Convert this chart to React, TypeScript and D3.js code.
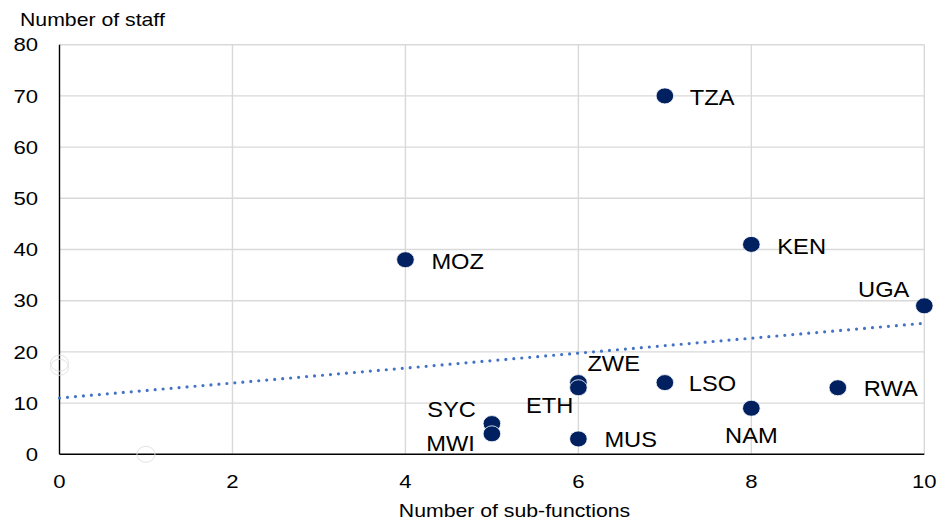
import React, { useEffect } from "react";
import * as d3 from "d3";

const countries = ["TZA", "KEN", "MOZ", "UGA", "RWA", "NAM", "LSO", "ZWE", "ETH", "SYC", "MWI", "MUS"];
const subFunctions = [7, 8, 4, 10, 9, 8, 7, 6, 6, 5, 5, 6];
const staff = [70, 41, 38, 29, 13, 9, 14, 14, 13, 6, 4, 3];

// faint, hidden-looking markers visible in the reference
const ghostX = [0, 0, 1];
const ghostY = [17.8, 17, 0];

// linear trend endpoints (x=0 and x=10)
const trendX = [0, 10];
const trendY = [11.0, 25.6];

const xTicks = [0, 2, 4, 6, 8, 10];
const yTicks = [0, 10, 20, 30, 40, 50, 60, 70, 80];

// label placement: [dx, dy, anchor]
const labelPos: Record<string, [number, number, string]> = {
  TZA: [25, 9, "start"],
  KEN: [26, 9.5, "start"],
  MOZ: [26, 9, "start"],
  UGA: [-15, -9, "end"],
  RWA: [26, 8, "start"],
  NAM: [0, 35, "middle"],
  LSO: [24, 8, "start"],
  ZWE: [9, -12, "start"],
  ETH: [-5, 25, "end"],
  SYC: [-16, -6.5, "end"],
  MWI: [-17, 17.5, "end"],
  MUS: [26, 8, "start"],
};

const FONT = "'Liberation Sans', Arial, Helvetica, sans-serif";

function SText(props: { x: number; y: number; size: number; sx: number; anchor?: string; children: React.ReactNode }) {
  const { x, y, size, sx, anchor = "start", children } = props;
  return (
    <text
      transform={`translate(${x},${y}) scale(${sx},1)`}
      fontSize={size}
      fontFamily={FONT}
      textAnchor={anchor as any}
      fill="#000"
    >
      {children}
    </text>
  );
}

export default function App() {
  useEffect(() => {
    document.body.style.margin = "0";
  }, []);

  const W = 938;
  const H = 521;
  const x = d3.scaleLinear().domain([0, 10]).range([59.5, 924.3]);
  const y = d3.scaleLinear().domain([0, 80]).range([454.3, 44.7]);

  const trendLine = d3
    .line<number>()
    .x((_, i) => x(trendX[i]))
    .y((d) => y(d))(trendY) as string;

  return (
    <svg width={W} height={H} style={{ display: "block", background: "#fff" }}>
      {/* horizontal gridlines */}
      {yTicks.filter((t) => t > 0).map((t) => (
        <line key={"hy" + t} x1={x(0)} x2={x(10)} y1={y(t)} y2={y(t)} stroke="#d9d9d9" strokeWidth={1.4} />
      ))}
      {/* vertical gridlines */}
      {xTicks.filter((t) => t > 0).map((t) => (
        <line key={"vx" + t} x1={x(t)} x2={x(t)} y1={y(80)} y2={y(0)} stroke="#d9d9d9" strokeWidth={1.4} />
      ))}
      {/* axes */}
      <line x1={x(0)} x2={x(0)} y1={y(80)} y2={y(0)} stroke="#000" strokeWidth={1.4} />
      <line x1={x(0)} x2={x(10)} y1={y(0)} y2={y(0)} stroke="#000" strokeWidth={1.4} />

      {/* ghost markers */}
      {ghostX.map((gx, i) => (
        <ellipse key={"g" + i} cx={x(gx)} cy={y(ghostY[i])} rx={9} ry={8} fill="none" stroke="#e3e3e3" strokeWidth={1} />
      ))}

      {/* trend line */}
      <path d={trendLine} fill="none" stroke="#4472c4" strokeWidth={3.2} strokeDasharray="0 8" strokeLinecap="round" />

      {/* points */}
      {countries.map((c, i) => (
        <ellipse key={c} cx={x(subFunctions[i])} cy={y(staff[i])} rx={8.8} ry={8} fill="#002060" stroke="#fff" strokeWidth={0.8} />
      ))}

      {/* data labels */}
      {countries.map((c, i) => {
        const [dx, dy, anchor] = labelPos[c];
        return (
          <SText key={"l" + c} x={x(subFunctions[i]) + dx} y={y(staff[i]) + dy} size={21.5} sx={1.1} anchor={anchor}>
            {c}
          </SText>
        );
      })}

      {/* y tick labels */}
      {yTicks.map((t) => (
        <SText key={"yt" + t} x={38} y={y(t) + 6.6} size={18.6} sx={1.19} anchor="end">
          {t}
        </SText>
      ))}
      {/* x tick labels */}
      {xTicks.map((t) => (
        <SText key={"xt" + t} x={x(t)} y={488} size={18.6} sx={1.19} anchor="middle">
          {t}
        </SText>
      ))}

      {/* axis titles */}
      <SText x={20} y={26} size={17.7} sx={1.2}>
        Number of staff
      </SText>
      <SText x={514.5} y={517} size={17.7} sx={1.2} anchor="middle">
        Number of sub-functions
      </SText>
    </svg>
  );
}
